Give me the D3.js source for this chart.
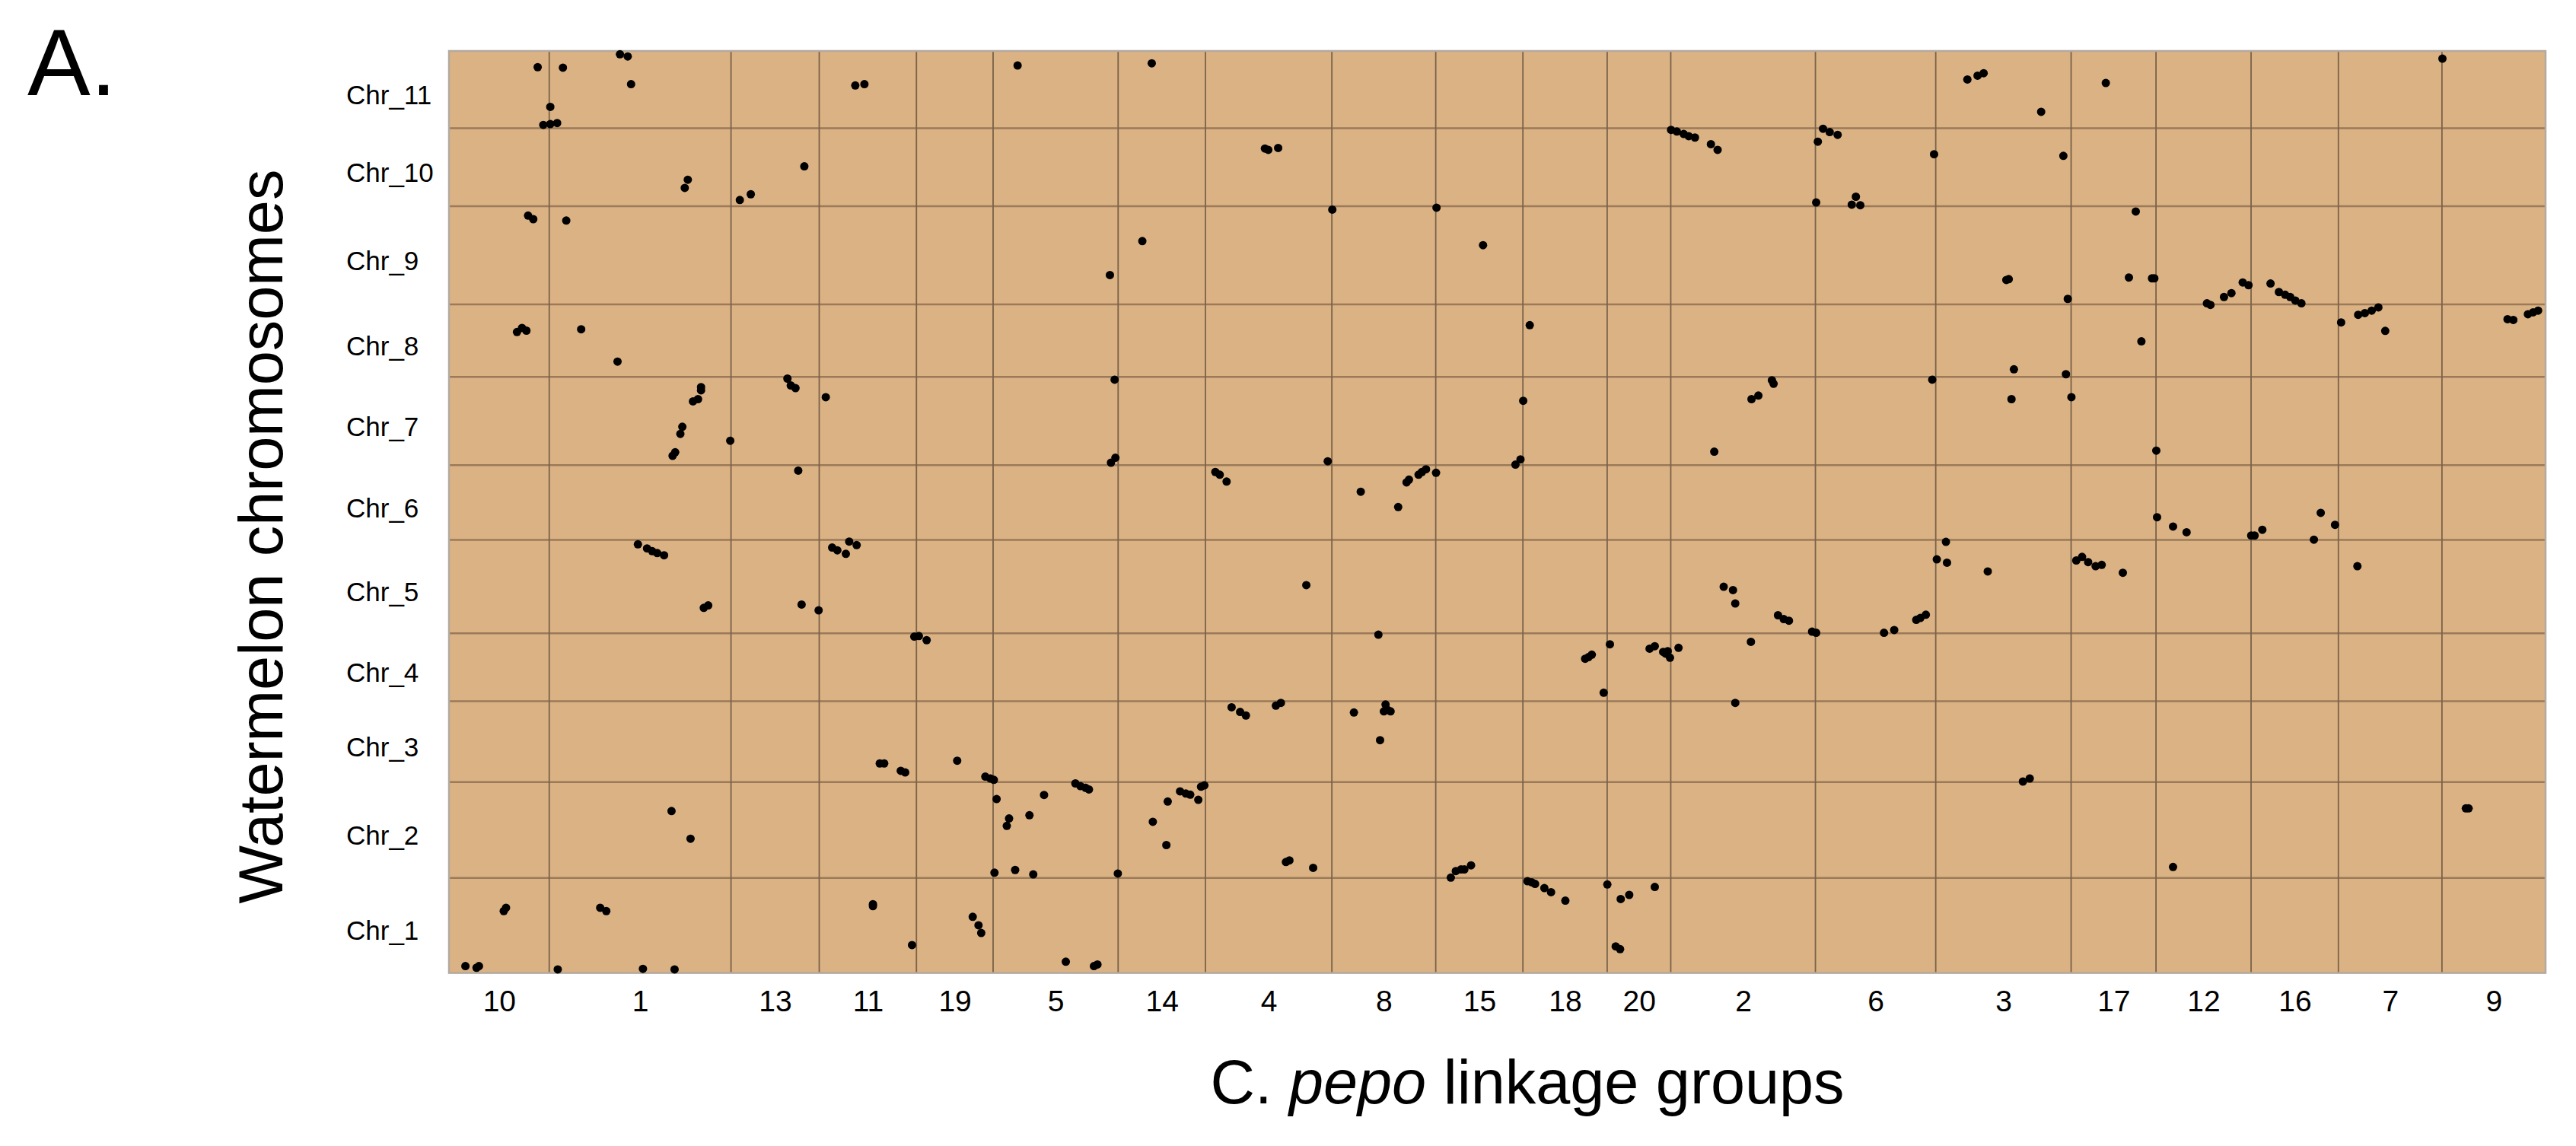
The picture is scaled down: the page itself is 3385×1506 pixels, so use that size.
<!DOCTYPE html>
<html>
<head>
<meta charset="utf-8">
<script src="https://cdn.jsdelivr.net/npm/d3@7"></script>
<style>
  body { margin: 0; background: #fff; }
  text { font-family: "Liberation Sans", Arial, sans-serif; fill: #000; }
</style>
</head>
<body>
<svg id="chart"></svg>
<script>
// C. pepo linkage groups, left to right, and their lengths (cM)
var linkageGroups = ["10","1","13","11","19","5","14","4","8","15","18","20","2","6","3","17","12","16","7","9"];
var groupLengths  = [65.9,119.5,58.0,63.9,50.4,82.2,57.4,83.1,68.3,57.3,55.4,41.8,95.1,79.1,89.0,55.8,62.5,57.4,68.1,68.1];

// watermelon chromosomes, bottom to top, and their lengths (Mb)
var chromosomes = ["Chr_1","Chr_2","Chr_3","Chr_4","Chr_5","Chr_6","Chr_7","Chr_8","Chr_9","Chr_10","Chr_11"];
var chrLengths  = [34.7,35.0,29.5,24.8,34.1,27.3,32.2,26.5,35.8,28.5,28.2];

// syntenic markers: [linkage group, cM, chromosome number, Mb]
var markers = [
  // Chr_11
  ["10",58.3,11,22.3],["1",9.0,11,22.1],["1",46.5,11,27.0],["1",51.6,11,26.2],["1",53.8,11,16.1],
  ["1",0.7,11,7.8],["10",62.0,11,1.2],["1",0.7,11,1.5],["1",5.2,11,1.9],["11",23.7,11,15.6],
  ["11",29.7,11,16.1],["5",16.1,11,22.9],["14",22.1,11,23.7],["3",20.8,11,17.8],["3",27.5,11,19.2],
  ["3",31.5,11,20.1],["9",0.3,11,25.4],["3",69.3,11,6.0],["17",22.8,11,16.5],
  // Chr_10
  ["13",48.2,10,14.6],["1",91.1,10,9.7],["1",89.1,10,6.7],["13",5.8,10,2.3],["13",13.0,10,4.4],
  ["4",39.1,10,21.1],["4",41.3,10,20.6],["4",47.8,10,21.3],["2",0.2,10,27.9],["2",4.0,10,27.3],
  ["2",8.5,10,26.4],["2",11.8,10,25.6],["2",15.9,10,25.1],["2",26.4,10,22.7],["2",30.8,10,20.6],
  ["6",5.0,10,28.3],["6",9.4,10,27.1],["6",14.6,10,26.1],["6",1.6,10,23.6],["6",78.0,10,19.0],
  ["6",0.5,10,1.4],["6",26.6,10,3.5],["6",23.9,10,0.6],["6",29.5,10,0.4],["3",83.9,10,18.4],
  // Chr_9
  ["10",52.0,9,32.4],["10",55.4,9,31.1],["1",11.2,9,30.6],["8",0.3,9,34.6],["15",0.5,9,35.3],
  ["15",31.1,9,21.6],["14",15.9,9,23.1],["5",76.8,9,10.7],["3",46.4,9,8.9],["3",48.0,9,9.2],
  ["17",42.5,9,33.9],["17",38.0,9,9.8],["17",53.2,9,9.5],["17",54.7,9,9.5],["3",86.8,9,2.0],
  ["12",33.5,9,0.4],["12",44.7,9,2.7],["12",49.6,9,4.1],["12",57.0,9,8.0],["12",60.8,9,7.0],
  ["16",12.8,9,7.6],["16",18.3,9,4.5],["16",22.4,9,3.5],["16",25.7,9,2.7],["16",29.1,9,1.4],
  ["16",33.1,9,0.4],
  // Chr_8
  ["10",44.7,8,16.4],["10",48.0,8,17.9],["10",50.9,8,16.9],["1",21.0,8,17.4],["1",44.9,8,5.6],
  ["18",4.5,8,18.9],["3",51.4,8,2.8],["12",35.8,8,26.3],["17",46.2,8,13.0],["7",1.8,8,19.9],
  ["7",13.0,8,22.7],["7",17.4,8,23.3],["7",21.9,8,24.2],["7",26.3,8,25.4],["7",30.8,8,16.8],
  ["9",43.1,8,21.1],["9",46.9,8,20.8],["9",56.5,8,22.9],["9",59.9,8,23.6],["9",63.2,8,24.2],
  ["3",85.6,8,1.0],
  // Chr_7
  ["1",99.8,7,28.5],["1",99.8,7,27.3],["1",94.5,7,23.3],["1",97.8,7,24.1],["1",87.5,7,14.0],
  ["1",86.2,7,11.4],["1",82.8,7,4.7],["1",81.1,7,3.4],["1",119.0,7,8.9],["13",37.1,7,31.6],
  ["13",39.3,7,29.1],["13",42.4,7,28.1],["11",4.3,7,24.8],["5",79.9,7,31.2],["5",77.5,7,0.9],
  ["5",80.4,7,2.7],["4",80.4,7,1.4],["2",66.5,7,31.0],["2",67.6,7,29.7],["2",53.1,7,24.1],
  ["2",57.6,7,25.4],["18",0.2,7,23.5],["15",52.4,7,0.2],["15",55.7,7,2.1],["2",28.6,7,4.9],
  ["6",76.8,7,31.2],["3",49.8,7,24.1],["17",0.2,7,24.8],["12",0.2,7,5.3],
  // Chr_6
  ["13",44.2,6,25.3],["4",6.5,6,24.8],["4",9.4,6,23.8],["4",13.9,6,21.3],["8",19.0,6,17.6],
  ["8",43.6,6,12.0],["8",49.1,6,21.0],["8",50.7,6,22.0],["8",57.0,6,23.8],["8",59.2,6,24.8],
  ["8",61.9,6,25.8],["15",0.2,6,24.5],["12",0.7,6,8.3],["12",11.2,6,4.9],["12",20.1,6,2.8],
  ["16",0.1,6,1.6],["16",2.3,6,1.6],["16",7.4,6,3.7],["16",45.8,6,9.9],["16",41.3,6,0.1],
  ["16",55.2,6,5.5],
  // Chr_5
  ["1",58.3,5,32.5],["1",64.3,5,31.0],["1",67.7,5,30.0],["1",71.0,5,29.3],["1",75.5,5,28.5],
  ["11",8.5,5,31.3],["11",11.9,5,30.3],["11",17.5,5,29.0],["11",19.7,5,33.5],["11",24.6,5,32.2],
  ["1",101.6,5,9.3],["1",104.5,5,10.2],["13",46.4,5,10.5],["13",57.6,5,8.4],["4",66.3,5,17.6],
  ["3",6.7,5,33.4],["3",0.7,5,27.0],["3",7.4,5,25.8],["3",34.2,5,22.6],["2",34.8,5,17.0],
  ["2",40.9,5,15.8],["2",42.4,5,10.9],["2",70.5,5,6.6],["2",74.3,5,5.2],["2",77.7,5,4.6],
  ["2",92.9,5,0.6],["6",0.5,5,0.2],["6",45.1,5,0.2],["6",51.8,5,1.2],["6",66.3,5,4.9],
  ["6",69.0,5,5.6],["6",72.6,5,6.8],["17",3.4,5,26.6],["17",7.2,5,27.9],["17",11.2,5,26.0],
  ["17",16.1,5,24.5],["17",20.1,5,25.0],["17",34.0,5,22.1],["7",12.5,5,24.5],
  // Chr_4
  ["11",62.5,4,23.6],["19",1.6,4,23.8],["19",6.7,4,22.3],["8",30.6,4,24.3],["2",52.7,4,21.7],
  ["18",40.9,4,15.5],["18",43.1,4,16.1],["18",45.3,4,17.0],["20",1.8,4,20.8],["18",53.1,4,3.1],
  ["20",27.9,4,19.2],["20",31.3,4,20.1],["20",36.8,4,18.0],["20",39.8,4,18.3],["20",41.3,4,15.9],
  ["20",38.4,4,17.4],["2",5.1,4,19.5],
  // Chr_3
  ["11",39.8,3,6.8],["11",42.7,3,6.8],["11",53.6,3,4.1],["11",56.5,3,3.5],["19",26.8,3,7.8],
  ["4",17.2,3,27.3],["4",22.8,3,25.6],["4",26.6,3,24.3],["4",46.3,3,27.9],["4",49.6,3,28.9],
  ["8",14.5,3,25.4],["8",35.3,3,28.3],["8",34.2,3,25.8],["8",38.6,3,25.8],["8",36.4,3,26.4],
  ["8",31.7,3,15.3],["19",45.3,3,2.0],["19",48.6,3,1.3],["5",0.5,3,0.8],["2",42.4,3,28.9],
  ["3",57.3,3,0.2],["3",61.8,3,1.3],
  // Chr_2
  ["1",80.4,2,24.4],["1",92.9,2,14.3],["5",54.1,2,34.5],["5",57.4,2,33.5],["5",60.8,2,32.9],
  ["5",63.0,2,32.3],["5",2.3,2,28.8],["5",10.5,2,21.7],["5",9.0,2,19.0],["5",23.9,2,22.9],
  ["5",33.5,2,30.3],["5",0.9,2,1.9],["5",14.5,2,2.9],["5",26.4,2,1.3],["5",82.0,2,1.6],
  ["14",22.8,2,20.5],["14",32.6,2,27.9],["14",31.7,2,12.0],["14",40.7,2,31.6],["14",44.5,2,30.8],
  ["14",47.4,2,30.4],["14",52.7,2,28.5],["14",54.5,2,33.3],["14",56.7,2,33.8],["4",52.9,2,5.8],
  ["4",55.2,2,6.4],["4",70.8,2,3.7],["15",9.9,2,0.1],["15",13.2,2,2.5],["15",16.6,2,3.1],
  ["15",18.8,2,3.1],["15",23.2,2,4.6],["9",15.7,2,25.4],["9",17.5,2,25.4],["12",11.2,2,4.0],
  // Chr_1
  ["10",36.0,1,22.6],["10",37.5,1,23.8],["1",33.5,1,23.8],["1",37.5,1,22.6],["11",35.3,1,25.1],
  ["11",35.3,1,24.4],["19",37.0,1,20.5],["19",40.8,1,17.4],["19",42.6,1,14.6],["11",61.0,1,10.2],
  ["10",10.8,1,2.5],["10",18.1,1,1.9],["10",19.7,1,2.5],["1",5.6,1,1.3],["1",61.6,1,1.5],
  ["1",82.4,1,1.3],["5",47.8,1,4.1],["5",66.3,1,2.5],["5",68.6,1,3.1],["18",3.0,1,33.5],
  ["18",5.8,1,33.1],["18",8.0,1,32.5],["18",14.1,1,31.0],["18",18.5,1,29.5],["18",27.9,1,26.4],
  ["20",0.1,1,32.3],["20",8.9,1,27.0],["20",14.5,1,28.5],["20",31.3,1,31.4],["20",5.6,1,9.7],
  ["20",8.5,1,8.7]
];

var width = 3385, height = 1506;
var plotLeft = 590, plotRight = 3345, plotTop = 67, plotBottom = 1278.6;

var svg = d3.select("#chart")
    .attr("width", width)
    .attr("height", height);

// cumulative starts of each group / chromosome
var groupStart = [0].concat(Array.from(d3.cumsum(groupLengths)));
var chrStart = [0].concat(Array.from(d3.cumsum(chrLengths)));
var groupIndex = {};
linkageGroups.forEach(function (g, i) { groupIndex[g] = i; });

var x = d3.scaleLinear()
    .domain([0, groupStart[groupStart.length - 1]])
    .range([plotLeft, plotRight]);

var y = d3.scaleLinear()
    .domain([0, chrStart[chrStart.length - 1]])
    .range([plotBottom, plotTop]);

// background
svg.append("rect")
    .attr("x", plotLeft).attr("y", plotTop)
    .attr("width", plotRight - plotLeft).attr("height", plotBottom - plotTop)
    .attr("fill", "#dbb284");

// chromosome boundaries
svg.selectAll(".hline")
    .data(chrStart.slice(1, -1))
    .enter()
    .append("line")
    .attr("x1", plotLeft).attr("x2", plotRight)
    .attr("y1", function (d) { return y(d); })
    .attr("y2", function (d) { return y(d); })
    .attr("stroke", "#9a7a58")
    .attr("stroke-width", 2.5);

// linkage group boundaries
svg.selectAll(".vline")
    .data(groupStart.slice(1, -1))
    .enter()
    .append("line")
    .attr("x1", function (d) { return x(d); })
    .attr("x2", function (d) { return x(d); })
    .attr("y1", plotTop).attr("y2", plotBottom)
    .attr("stroke", "#7a6248")
    .attr("stroke-width", 1.8);

svg.append("rect")
    .attr("x", plotLeft).attr("y", plotTop)
    .attr("width", plotRight - plotLeft).attr("height", plotBottom - plotTop)
    .attr("fill", "none")
    .attr("stroke", "#b3aaa0")
    .attr("stroke-width", 2.5);

// markers
svg.selectAll("circle")
    .data(markers)
    .enter()
    .append("circle")
    .attr("cx", function (d) { return x(groupStart[groupIndex[d[0]]] + d[1]); })
    .attr("cy", function (d) { return y(chrStart[d[2] - 1] + d[3]); })
    .attr("r", 5.5)
    .attr("fill", "#000");

// x axis: group labels centred on each block
var xAxis = d3.axisBottom(x)
    .tickValues(groupLengths.map(function (l, i) { return groupStart[i] + l / 2; }))
    .tickFormat(function (d, i) { return linkageGroups[i]; })
    .tickSize(0)
    .tickPadding(23);

var gx = svg.append("g")
    .attr("transform", "translate(0," + plotBottom + ")")
    .call(xAxis);
gx.select(".domain").remove();
gx.selectAll("text")
    .style("font-family", "'Liberation Sans', Arial, sans-serif")
    .style("font-size", "39px")
    .attr("fill", "#000");

// y labels, left aligned
svg.selectAll(".chrlabel")
    .data(chromosomes)
    .enter()
    .append("text")
    .attr("x", 455)
    .attr("y", function (d, i) { return y(chrStart[i] + chrLengths[i] / 2) + 7; })
    .attr("dy", "0.35em")
    .style("font-size", "35px")
    .text(function (d) { return d; });

// titles
svg.append("text")
    .attr("x", 36).attr("y", 125)
    .style("font-size", "124px")
    .text("A.");

svg.append("text")
    .attr("transform", "translate(371,705) rotate(-90)")
    .attr("text-anchor", "middle")
    .style("font-size", "81px")
    .text("Watermelon chromosomes");

var xt = svg.append("text")
    .attr("x", 2007).attr("y", 1450)
    .attr("text-anchor", "middle")
    .style("font-size", "81px");
xt.append("tspan").text("C. ");
xt.append("tspan").style("font-style", "italic").text("pepo");
xt.append("tspan").text(" linkage groups");
</script>
</body>
</html>
